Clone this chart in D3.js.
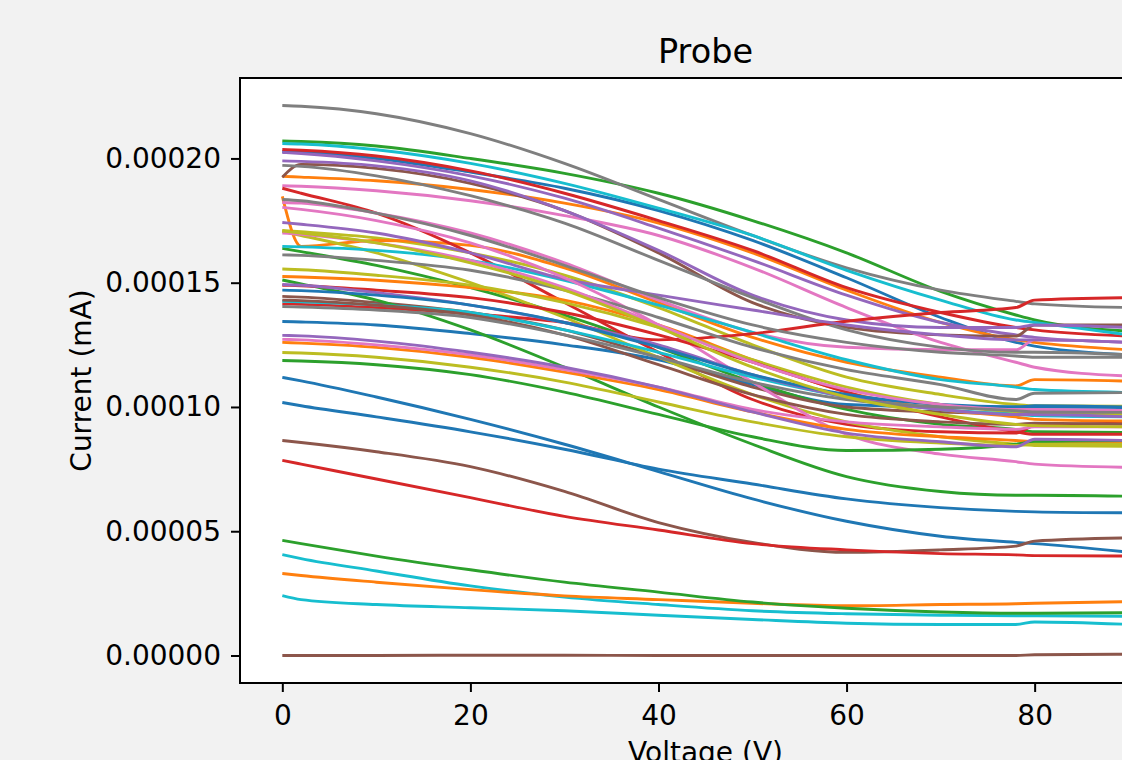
<!DOCTYPE html>
<html>
<head>
<meta charset="utf-8">
<script src="https://cdn.jsdelivr.net/npm/d3@7"></script>
<style>
  body { margin: 0; background: #f2f2f2; }
  svg { display: block; font-family: "DejaVu Sans", sans-serif; }
</style>
</head>
<body>
<svg id="chart" width="1122" height="760"></svg>
<script>
// sample voltages (V); currents below are in units of 1e-5 mA
var voltage = [0, 2, 10, 20, 30, 40, 50, 60, 70, 78, 80, 90];
var UNIT = 1e-5;

var probe00 = [20.28, 20.25, 20.0, 19.45, 18.8, 17.9, 16.7, 15.2, 13.6, 12.6, 12.45, 12.1];
var probe01 = [19.28, 19.25, 19.1, 18.75, 18.2, 17.4, 16.2, 14.7, 13.4, 12.7, 12.6, 12.3];
var probe02 = [20.7, 20.68, 20.5, 20.0, 19.4, 18.6, 17.5, 16.2, 14.65, 13.7, 13.5, 13.05];
var probe03 = [20.36, 20.33, 20.1, 19.5, 18.6, 17.5, 16.3, 14.8, 13.8, 13.2, 13.1, 12.85];
var probe04 = [20.24, 20.2, 19.9, 19.3, 18.4, 17.2, 15.9, 14.5, 13.4, 12.9, 12.8, 12.6];
var probe05 = [19.24, 19.76, 19.6, 19.0, 17.9, 16.2, 14.2, 13.2, 12.9, 12.85, 13.3, 13.3];
var probe06 = [18.9, 18.88, 18.7, 18.3, 17.7, 16.9, 15.6, 14.0, 12.6, 11.8, 11.6, 11.24];
var probe07 = [22.13, 22.1, 21.8, 21.0, 19.8, 18.35, 16.9, 15.6, 14.7, 14.25, 14.15, 14.0];
var probe08 = [17.1, 17.05, 16.8, 16.2, 15.3, 14.0, 12.5, 11.2, 10.5, 10.1, 10.05, 10.03];
var probe09 = [20.6, 20.58, 20.35, 19.8, 19.0, 18.0, 16.9, 15.5, 14.3, 13.5, 13.4, 12.9];

var probe10 = [13.44, 13.42, 13.3, 12.95, 12.5, 11.9, 10.9, 10.1, 10.0, 10.0, 10.05, 10.0];
var probe11 = [18.47, 16.46, 16.7, 16.5, 15.6, 14.2, 12.8, 11.8, 11.2, 10.85, 11.1, 11.04];
var probe12 = [16.38, 16.25, 15.7, 14.8, 13.7, 12.4, 11.0, 9.9, 9.3, 9.1, 9.0, 8.97];
var probe13 = [18.8, 18.6, 17.8, 16.2, 14.2, 12.2, 10.3, 9.3, 9.0, 8.95, 9.25, 9.35];
var probe14 = [19.9, 19.88, 19.7, 19.1, 17.9, 16.3, 14.5, 13.5, 13.2, 13.2, 13.3, 13.2];
var probe15 = [14.45, 14.42, 14.2, 13.8, 13.1, 12.0, 10.8, 10.0, 9.8, 9.75, 9.8, 9.8];
var probe16 = [18.23, 18.2, 17.8, 17.0, 15.8, 14.3, 13.0, 12.4, 12.3, 12.3, 12.7, 12.6];
var probe17 = [19.72, 19.68, 19.3, 18.5, 17.4, 15.9, 14.4, 13.1, 12.4, 12.2, 12.2, 12.1];
var probe18 = [17.06, 16.9, 16.2, 15.0, 13.6, 12.0, 10.5, 9.4, 8.8, 8.5, 8.45, 8.42];
var probe19 = [16.46, 16.44, 16.3, 15.9, 15.1, 14.1, 13.0, 11.9, 11.1, 10.8, 10.7, 10.58];

var probe20 = [11.19, 11.05, 10.4, 9.5, 8.5, 7.4, 6.3, 5.4, 4.8, 4.55, 4.5, 4.16];
var probe21 = [15.25, 15.23, 15.1, 14.8, 14.3, 13.3, 11.9, 10.6, 9.9, 9.6, 9.5, 9.43];
var probe22 = [15.11, 14.95, 14.3, 13.1, 11.6, 10.0, 8.5, 7.2, 6.6, 6.45, 6.45, 6.41];
var probe23 = [14.15, 14.13, 14.0, 13.75, 13.4, 12.7, 12.95, 13.45, 13.8, 14.0, 14.3, 14.4];
var probe24 = [17.42, 17.35, 17.0, 16.2, 15.15, 14.5, 13.9, 13.3, 12.9, 12.7, 12.7, 12.6];
var probe25 = [8.65, 8.57, 8.2, 7.6, 6.6, 5.35, 4.55, 4.15, 4.25, 4.4, 4.6, 4.73];
var probe26 = [18.03, 17.95, 17.5, 16.6, 15.2, 13.3, 11.0, 8.9, 8.1, 7.8, 7.7, 7.57];
var probe27 = [18.35, 18.3, 17.8, 16.9, 15.7, 14.4, 13.3, 12.6, 12.2, 12.05, 12.0, 12.0];
var probe28 = [15.55, 15.52, 15.3, 14.9, 14.2, 13.2, 11.9, 10.8, 10.1, 9.8, 9.75, 9.7];
var probe29 = [14.25, 14.23, 14.1, 13.8, 13.1, 12.2, 11.2, 10.4, 9.9, 9.7, 9.65, 9.6];

var probe30 = [10.18, 10.05, 9.6, 9.0, 8.3, 7.5, 6.9, 6.3, 5.95, 5.8, 5.78, 5.74];
var probe31 = [12.6, 12.57, 12.4, 12.0, 11.4, 10.7, 9.8, 9.1, 8.8, 8.65, 8.6, 8.57];
var probe32 = [11.87, 11.85, 11.7, 11.3, 10.6, 9.7, 8.8, 8.25, 8.3, 8.5, 8.6, 8.65];
var probe33 = [14.9, 14.88, 14.7, 14.4, 13.8, 12.9, 11.8, 10.6, 9.6, 9.0, 8.9, 8.9];
var probe34 = [14.93, 14.9, 14.6, 14.1, 13.4, 12.5, 11.3, 10.4, 9.9, 9.7, 9.7, 9.6];
var probe35 = [14.3, 14.28, 14.1, 13.7, 12.9, 11.7, 10.5, 9.7, 9.4, 9.3, 9.35, 9.3];
var probe36 = [12.72, 12.7, 12.5, 12.1, 11.5, 10.8, 9.9, 9.4, 9.2, 9.1, 9.2, 9.2];
var probe37 = [16.12, 16.1, 15.9, 15.5, 14.7, 13.6, 12.4, 11.5, 10.9, 10.3, 10.55, 10.58];
var probe38 = [12.19, 12.17, 12.0, 11.6, 11.0, 10.2, 9.4, 8.8, 8.55, 8.45, 8.5, 8.5];
var probe39 = [4.06, 3.9, 3.4, 2.8, 2.35, 2.05, 1.8, 1.68, 1.62, 1.6, 1.6, 1.58];

var probe40 = [14.7, 14.68, 14.5, 14.1, 13.4, 12.4, 11.3, 10.5, 10.1, 10.0, 10.0, 9.98];
var probe41 = [3.3, 3.22, 2.95, 2.65, 2.4, 2.25, 2.1, 2.0, 2.05, 2.08, 2.1, 2.17];
var probe42 = [4.63, 4.5, 4.0, 3.45, 2.95, 2.55, 2.15, 1.9, 1.75, 1.7, 1.7, 1.72];
var probe43 = [7.85, 7.7, 7.1, 6.35, 5.6, 5.05, 4.5, 4.25, 4.1, 4.05, 4.02, 4.0];
var probe44 = [12.88, 12.86, 12.65, 12.2, 11.6, 10.8, 9.8, 8.95, 8.6, 8.4, 8.7, 8.65];
var probe45 = [0.0, 0.0, 0.0, 0.01, 0.01, 0.0, 0.0, 0.0, 0.0, 0.0, 0.03, 0.05];
var probe46 = [17.0, 16.95, 16.6, 15.9, 14.8, 13.3, 11.8, 10.7, 10.1, 9.9, 9.9, 9.85];
var probe47 = [14.04, 14.02, 13.9, 13.6, 12.9, 12.0, 11.0, 10.3, 10.0, 9.85, 9.8, 9.78];
var probe48 = [17.08, 17.0, 16.6, 15.8, 14.7, 13.2, 11.6, 10.4, 9.7, 9.3, 9.25, 9.2];
var probe49 = [2.41, 2.25, 2.05, 1.92, 1.8, 1.62, 1.45, 1.3, 1.25, 1.25, 1.35, 1.25];

var probes = [probe00, probe01, probe02, probe03, probe04, probe05, probe06, probe07, probe08, probe09,
              probe10, probe11, probe12, probe13, probe14, probe15, probe16, probe17, probe18, probe19,
              probe20, probe21, probe22, probe23, probe24, probe25, probe26, probe27, probe28, probe29,
              probe30, probe31, probe32, probe33, probe34, probe35, probe36, probe37, probe38, probe39,
              probe40, probe41, probe42, probe43, probe44, probe45, probe46, probe47, probe48, probe49];

var voltageTicks = [0, 20, 40, 60, 80];
var currentTicks = [0, 0.00005, 0.0001, 0.00015, 0.0002];

// matplotlib tab10 cycle
var colors = ["#1f77b4", "#ff7f0e", "#2ca02c", "#d62728", "#9467bd",
              "#8c564b", "#e377c2", "#7f7f7f", "#bcbd22", "#17becf"];

// build series in real units
var series = probes.map(function(vals) {
    return vals.map(function(v, i) { return {x: voltage[i], y: v * UNIT}; });
});

// plot box (right edge runs past the window, as in the reference)
var plot = {left: 240, top: 78, right: 1171, bottom: 683};

var svg = d3.select("#chart");
svg.append("rect").attr("width", 1122).attr("height", 760).attr("fill", "#f2f2f2");

// 5% margins like matplotlib autoscale
var xExt = d3.extent(voltage);
var xPad = (xExt[1] - xExt[0]) * 0.05;
var x = d3.scaleLinear().domain([xExt[0] - xPad, xExt[1] + xPad]).range([plot.left, plot.right]);

var yExt = d3.extent(d3.merge(series), function(d) { return d.y; });
var yPad = (yExt[1] - yExt[0]) * 0.05;
var y = d3.scaleLinear().domain([yExt[0] - yPad, yExt[1] + yPad]).range([plot.bottom, plot.top]);

svg.append("rect")
    .attr("x", plot.left).attr("y", plot.top)
    .attr("width", plot.right - plot.left).attr("height", plot.bottom - plot.top)
    .attr("fill", "#ffffff");

svg.append("clipPath").attr("id", "clip").append("rect")
    .attr("x", plot.left).attr("y", plot.top)
    .attr("width", plot.right - plot.left).attr("height", plot.bottom - plot.top);

var line = d3.line()
    .x(function(d) { return x(d.x); })
    .y(function(d) { return y(d.y); })
    .curve(d3.curveMonotoneX);

svg.append("g").attr("clip-path", "url(#clip)")
    .selectAll("path").data(series).enter().append("path")
    .attr("d", line)
    .attr("fill", "none")
    .attr("stroke", function(d, i) { return colors[i % 10]; })
    .attr("stroke-width", 2.9)
    .attr("stroke-linejoin", "round")
    .attr("stroke-linecap", "butt");

// frame
svg.append("rect")
    .attr("x", plot.left).attr("y", plot.top)
    .attr("width", plot.right - plot.left).attr("height", plot.bottom - plot.top)
    .attr("fill", "none").attr("stroke", "#000").attr("stroke-width", 2);

// axes
var xAxis = svg.append("g")
    .attr("transform", "translate(0," + plot.bottom + ")")
    .call(d3.axisBottom(x).tickValues(voltageTicks).tickSize(9).tickPadding(13)
        .tickFormat(d3.format("d")));
var yAxis = svg.append("g")
    .attr("transform", "translate(" + plot.left + ",0)")
    .call(d3.axisLeft(y).tickValues(currentTicks).tickSize(9).tickPadding(10)
        .tickFormat(d3.format(".5f")));

[xAxis, yAxis].forEach(function(a) {
    a.select(".domain").remove();
    a.selectAll(".tick line").attr("stroke", "#000").attr("stroke-width", 2);
    a.selectAll(".tick text").attr("fill", "#000")
        .style("font-family", "DejaVu Sans").style("font-size", "28px");
});

// title and labels
svg.append("text")
    .attr("x", (plot.left + plot.right) / 2).attr("y", 63)
    .attr("text-anchor", "middle")
    .style("font-size", "33.5px")
    .text("Probe");

svg.append("text")
    .attr("x", (plot.left + plot.right) / 2).attr("y", 762)
    .attr("text-anchor", "middle")
    .style("font-size", "28px")
    .text("Voltage (V)");

svg.append("text")
    .attr("transform", "translate(91," + ((plot.top + plot.bottom) / 2) + ") rotate(-90)")
    .attr("text-anchor", "middle")
    .style("font-size", "28px")
    .text("Current (mA)");
</script>
</body>
</html>
